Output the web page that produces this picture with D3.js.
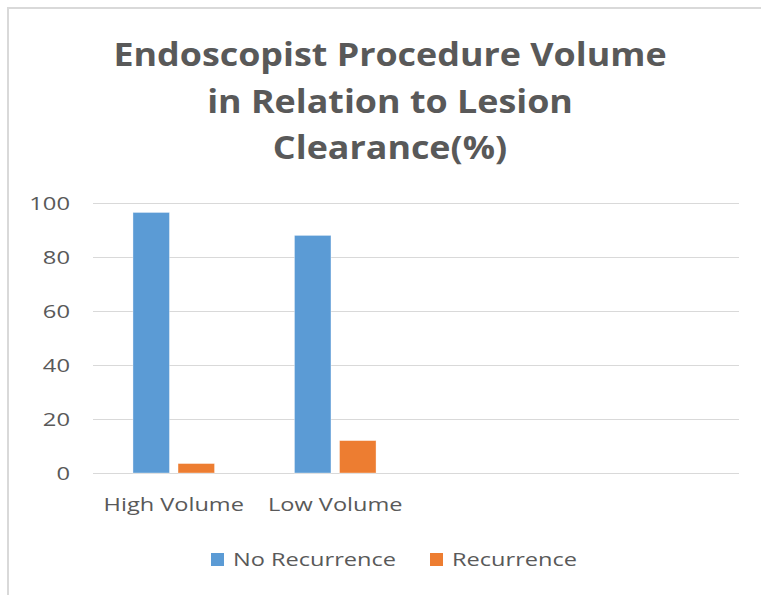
<!DOCTYPE html>
<html>
<head>
<meta charset="utf-8">
<script src="https://cdn.jsdelivr.net/npm/d3@7"></script>
<style>
  html, body { margin: 0; padding: 0; background: #fff; }
  svg { display: block; }
  text { font-family: "Open Sans", "Noto Sans", sans-serif; fill: #595959; }
</style>
</head>
<body>
<svg id="chart" width="761" height="595"></svg>
<script>
// Chart data
const titleLines = ["Endoscopist Procedure Volume", "in Relation to Lesion", "Clearance(%)"];
const categories = ["High Volume", "Low Volume", "", ""];
const seriesNames = ["No Recurrence", "Recurrence"];
const noRecurrence = [96.5, 88, null, null];
const recurrence = [3.5, 12, null, null];
const yTicks = [0, 20, 40, 60, 80, 100];
const colors = ["#5b9bd5", "#ed7d31"];

const seriesValues = [noRecurrence, recurrence];

const svg = d3.select("#chart");
const W = 761, H = 595;

// Frame of the chart area (only left and top edges fall inside the view)
svg.append("rect")
  .attr("x", 8).attr("y", 8)
  .attr("width", W + 20).attr("height", H + 20)
  .attr("fill", "#fff")
  .attr("stroke", "#d9d9d9").attr("stroke-width", 2);

// Stretch text horizontally by a factor (wide rendering of the labels)
function stretch(sel, factor) {
  sel.each(function () {
    const w = this.getComputedTextLength();
    d3.select(this).attr("textLength", w * factor).attr("lengthAdjust", "spacingAndGlyphs");
  });
}

// Title
const title = svg.append("g").attr("class", "title");
title.selectAll("text")
  .data(titleLines)
  .join("text")
  .attr("x", 390)
  .attr("y", (d, i) => 66 + i * 46.5)
  .attr("text-anchor", "middle")
  .attr("font-size", 32)
  .attr("font-weight", 700)
  .text(d => d)
  .call(stretch, 1.12);

// Scales
const plot = { left: 93, right: 739, top: 203, bottom: 473 };
const x0 = d3.scaleBand()
  .domain(d3.range(categories.length))
  .range([plot.left, plot.right])
  .paddingInner(0).paddingOuter(0);
const x1 = d3.scaleBand()
  .domain(d3.range(seriesNames.length))
  .range([0, x0.bandwidth()])
  .paddingInner(0.19).paddingOuter(0.887);
const y = d3.scaleLinear().domain([0, 100]).range([plot.bottom, plot.top]);

// Gridlines
svg.append("g")
  .selectAll("line")
  .data(yTicks)
  .join("line")
  .attr("x1", plot.left).attr("x2", plot.right)
  .attr("y1", d => Math.round(y(d)) + 0.5).attr("y2", d => Math.round(y(d)) + 0.5)
  .attr("stroke", "#d9d9d9").attr("stroke-width", 1.2);

// Y axis labels
const yAxis = svg.append("g")
  .attr("transform", `translate(${plot.left},0)`)
  .call(d3.axisLeft(y).tickValues(yTicks).tickSize(0).tickPadding(23));
yAxis.select(".domain").remove();
yAxis.selectAll("text")
  .attr("font-size", 19)
  .attr("font-family", null)
  .attr("fill", "#595959")
  .attr("dy", "0.35em")
  .call(stretch, 1.25);

// X axis labels
const xAxis = svg.append("g")
  .attr("transform", `translate(0,${plot.bottom})`)
  .call(d3.axisBottom(x0).tickFormat(i => categories[i]).tickSize(0).tickPadding(25));
xAxis.select(".domain").remove();
xAxis.selectAll("text")
  .attr("font-size", 19)
  .attr("font-family", null)
  .attr("fill", "#595959")
  .call(stretch, 1.24);

// Bars
const groups = svg.append("g")
  .selectAll("g")
  .data(categories.map((c, i) => i))
  .join("g")
  .attr("transform", i => `translate(${x0(i)},0)`);

groups.selectAll("rect")
  .data(i => seriesValues.map((vals, s) => ({ s, v: vals[i] })).filter(d => d.v != null))
  .join("rect")
  .attr("x", d => x1(d.s))
  .attr("width", x1.bandwidth())
  .attr("y", d => y(d.v))
  .attr("height", d => y(0) - y(d.v))
  .attr("fill", d => colors[d.s])
  .attr("stroke", "#ffffff").attr("stroke-opacity", 0.45).attr("stroke-width", 0.8);

// Legend
const legendItems = [
  { name: seriesNames[0], color: colors[0], x: 211 },
  { name: seriesNames[1], color: colors[1], x: 430 }
];
const legend = svg.append("g")
  .selectAll("g")
  .data(legendItems)
  .join("g")
  .attr("transform", d => `translate(${d.x},553)`);
legend.append("rect")
  .attr("width", 13).attr("height", 13)
  .attr("fill", d => d.color);
legend.append("text")
  .attr("x", 22).attr("y", 6.5).attr("dy", "0.35em")
  .attr("font-size", 19)
  .text(d => d.name)
  .call(stretch, 1.24);
</script>
</body>
</html>
